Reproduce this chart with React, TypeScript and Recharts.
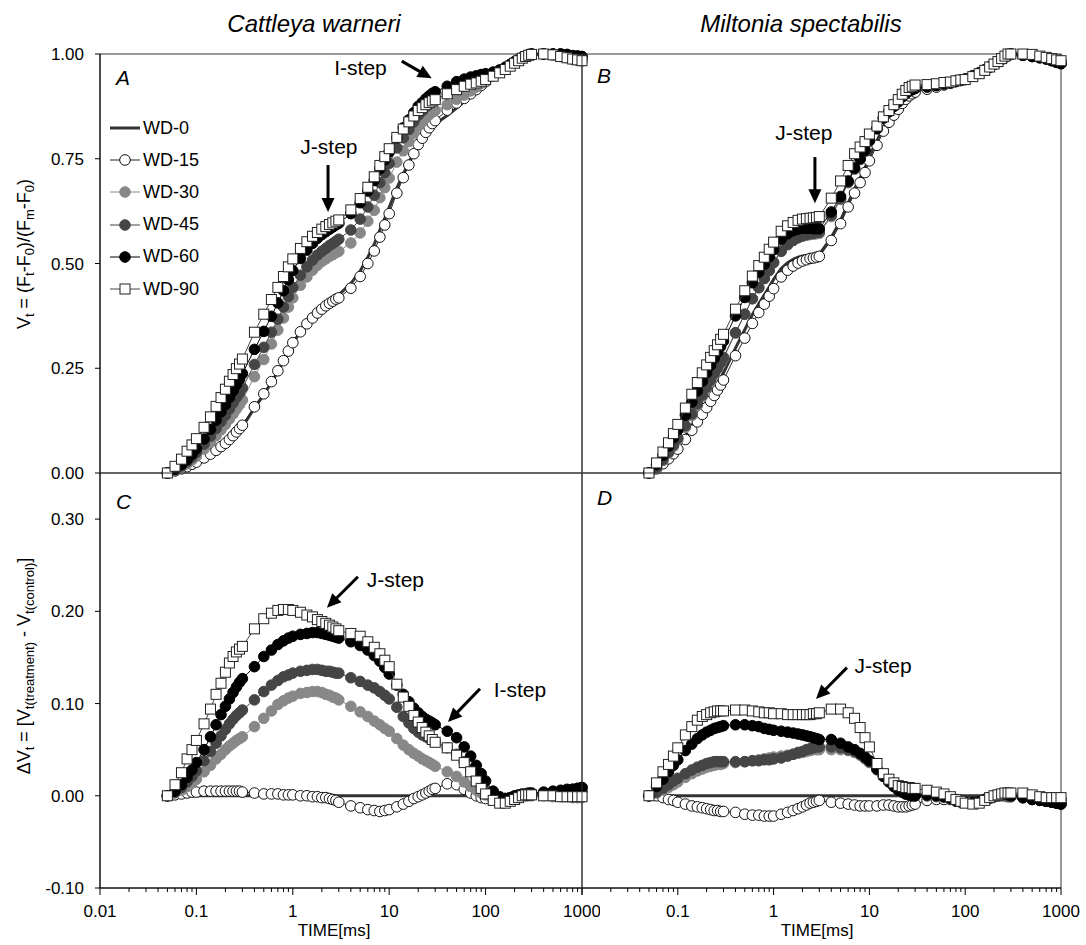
import React from "react";
import {
  ScatterChart,
  Scatter,
  XAxis,
  YAxis,
  ReferenceArea,
  ReferenceLine,
  ReferenceDot,
  Legend,
} from "recharts";

const FONT = '"Liberation Sans", Arial, Helvetica, sans-serif';

// sampling times of the OJIP transient (ms)
const timeMs = [
  0.05, 0.06, 0.07, 0.08, 0.09, 0.1, 0.12, 0.14, 0.16, 0.18, 0.2, 0.22, 0.24, 0.26, 0.28, 0.3,
  0.4, 0.5, 0.6, 0.7, 0.8, 0.9, 1, 1.2, 1.4, 1.6, 1.8, 2, 2.2, 2.4, 2.6, 2.8, 3,
  4, 5, 6, 7, 8, 9, 10, 12, 14, 16, 18, 20, 22, 24, 26, 28, 30,
  40, 50, 60, 70, 80, 90, 100, 120, 140, 160, 180, 200, 220, 240, 260, 280, 300,
  400, 500, 600, 700, 800, 900, 1000,
];

// Cattleya warneri: V_t per water-deficit treatment
const catV0 = [
  0, 0.004, 0.008, 0.012, 0.017, 0.022, 0.031, 0.04, 0.049, 0.058, 0.066, 0.075, 0.084, 0.093, 0.101, 0.11,
  0.155, 0.187, 0.216, 0.242, 0.267, 0.29, 0.31, 0.337, 0.356, 0.371, 0.383, 0.393, 0.401, 0.408, 0.414, 0.42, 0.425,
  0.452, 0.482, 0.515, 0.546, 0.58, 0.608, 0.634, 0.68, 0.714, 0.741, 0.765, 0.785, 0.798, 0.81, 0.819, 0.827, 0.833,
  0.853, 0.871, 0.887, 0.902, 0.915, 0.927, 0.937, 0.952, 0.963, 0.971, 0.977, 0.982, 0.986, 0.99, 0.993, 0.996, 0.998,
  1, 0.998, 0.995, 0.992, 0.989, 0.987, 0.985,
];
const catV15 = [
  0, 0.005, 0.01, 0.015, 0.021, 0.026, 0.036, 0.045, 0.054, 0.063, 0.071, 0.08, 0.089, 0.098, 0.106, 0.114,
  0.158, 0.189, 0.218, 0.244, 0.268, 0.291, 0.311, 0.337, 0.356, 0.37, 0.382, 0.391, 0.399, 0.405, 0.41, 0.415, 0.418,
  0.441, 0.469, 0.5, 0.53, 0.563, 0.592, 0.619, 0.668, 0.705, 0.735, 0.762, 0.784, 0.799, 0.813, 0.824, 0.834, 0.841,
  0.866, 0.883, 0.894, 0.905, 0.915, 0.925, 0.934, 0.948, 0.959, 0.968, 0.975, 0.981, 0.986, 0.991, 0.994, 0.998, 1,
  1, 1, 1, 0.998, 0.996, 0.995, 0.994,
];
const catV30 = [
  0, 0.007, 0.014, 0.022, 0.031, 0.04, 0.057, 0.073, 0.089, 0.103, 0.116, 0.129, 0.141, 0.153, 0.163, 0.174,
  0.23, 0.271, 0.308, 0.341, 0.37, 0.396, 0.418, 0.448, 0.468, 0.484, 0.496, 0.505, 0.511, 0.517, 0.521, 0.526, 0.529,
  0.549, 0.573, 0.601, 0.627, 0.657, 0.681, 0.704, 0.742, 0.769, 0.791, 0.811, 0.828, 0.838, 0.848, 0.855, 0.861, 0.865,
  0.879, 0.892, 0.902, 0.912, 0.921, 0.93, 0.938, 0.95, 0.96, 0.968, 0.975, 0.981, 0.986, 0.99, 0.993, 0.996, 0.998,
  1, 0.997, 0.994, 0.991, 0.987, 0.985, 0.983,
];
const catV45 = [
  0, 0.008, 0.017, 0.027, 0.038, 0.049, 0.069, 0.088, 0.106, 0.123, 0.138, 0.153, 0.167, 0.18, 0.191, 0.203,
  0.259, 0.3, 0.336, 0.367, 0.396, 0.421, 0.443, 0.472, 0.492, 0.508, 0.52, 0.529, 0.536, 0.543, 0.548, 0.553, 0.558,
  0.58, 0.606, 0.635, 0.663, 0.693, 0.717, 0.739, 0.776, 0.8, 0.82, 0.838, 0.854, 0.864, 0.874, 0.881, 0.887, 0.892,
  0.905, 0.916, 0.924, 0.93, 0.934, 0.938, 0.942, 0.949, 0.957, 0.965, 0.973, 0.98, 0.985, 0.99, 0.994, 0.997, 0.999,
  1, 1, 0.998, 0.996, 0.993, 0.992, 0.99,
];
const catV60 = [
  0, 0.009, 0.02, 0.032, 0.045, 0.058, 0.081, 0.104, 0.126, 0.146, 0.163, 0.18, 0.196, 0.211, 0.224, 0.237,
  0.295, 0.338, 0.374, 0.406, 0.435, 0.461, 0.483, 0.512, 0.532, 0.548, 0.56, 0.569, 0.576, 0.582, 0.587, 0.592, 0.596,
  0.619, 0.645, 0.673, 0.698, 0.726, 0.747, 0.766, 0.8, 0.824, 0.843, 0.86, 0.875, 0.884, 0.893, 0.9, 0.906, 0.91,
  0.923, 0.934, 0.94, 0.945, 0.948, 0.951, 0.953, 0.957, 0.962, 0.968, 0.975, 0.982, 0.987, 0.992, 0.995, 0.999, 1,
  1, 1, 1, 0.999, 0.996, 0.995, 0.994,
];
const catV90 = [
  0, 0.016, 0.033, 0.052, 0.067, 0.082, 0.109, 0.134, 0.159, 0.18, 0.2, 0.219, 0.235, 0.249, 0.26, 0.272,
  0.336, 0.379, 0.414, 0.443, 0.469, 0.492, 0.511, 0.536, 0.552, 0.565, 0.574, 0.582, 0.588, 0.593, 0.597, 0.601, 0.604,
  0.628, 0.655, 0.682, 0.707, 0.734, 0.755, 0.774, 0.801, 0.821, 0.838, 0.852, 0.865, 0.872, 0.879, 0.884, 0.888, 0.891,
  0.905, 0.915, 0.923, 0.928, 0.931, 0.935, 0.939, 0.947, 0.955, 0.963, 0.971, 0.978, 0.984, 0.99, 0.994, 0.997, 0.999,
  1, 0.998, 0.994, 0.991, 0.988, 0.986, 0.984,
];

// Miltonia spectabilis: V_t per water-deficit treatment
const milV0 = [
  0, 0.01, 0.024, 0.038, 0.051, 0.064, 0.089, 0.113, 0.134, 0.153, 0.17, 0.186, 0.201, 0.214, 0.227, 0.239,
  0.298, 0.342, 0.378, 0.404, 0.425, 0.444, 0.462, 0.488, 0.502, 0.51, 0.515, 0.518, 0.519, 0.52, 0.52, 0.521, 0.522,
  0.562, 0.603, 0.644, 0.678, 0.704, 0.728, 0.756, 0.793, 0.826, 0.847, 0.865, 0.88, 0.894, 0.904, 0.911, 0.915, 0.918,
  0.921, 0.925, 0.93, 0.934, 0.94, 0.944, 0.947, 0.955, 0.961, 0.966, 0.971, 0.976, 0.981, 0.987, 0.992, 0.997, 1,
  0.999, 0.998, 0.996, 0.994, 0.991, 0.988, 0.986,
];
const milV15 = [
  0, 0.01, 0.022, 0.034, 0.046, 0.057, 0.08, 0.102, 0.122, 0.14, 0.156, 0.171, 0.185, 0.198, 0.21, 0.222,
  0.28, 0.322, 0.357, 0.383, 0.403, 0.422, 0.44, 0.468, 0.484, 0.494, 0.501, 0.506, 0.509, 0.512, 0.513, 0.515, 0.517,
  0.555, 0.595, 0.635, 0.668, 0.693, 0.717, 0.745, 0.782, 0.816, 0.837, 0.854, 0.868, 0.882, 0.892, 0.9, 0.905, 0.909,
  0.916, 0.921, 0.926, 0.93, 0.934, 0.937, 0.94, 0.948, 0.955, 0.962, 0.969, 0.975, 0.981, 0.987, 0.992, 0.996, 0.999,
  0.997, 0.995, 0.993, 0.99, 0.987, 0.984, 0.982,
];
const milV30 = [
  0, 0.013, 0.03, 0.047, 0.063, 0.079, 0.109, 0.137, 0.161, 0.182, 0.201, 0.218, 0.234, 0.248, 0.261, 0.274,
  0.334, 0.379, 0.416, 0.443, 0.465, 0.485, 0.504, 0.531, 0.546, 0.555, 0.561, 0.565, 0.567, 0.569, 0.57, 0.571, 0.572,
  0.612, 0.653, 0.693, 0.725, 0.748, 0.768, 0.792, 0.821, 0.847, 0.862, 0.875, 0.886, 0.898, 0.906, 0.912, 0.915, 0.918,
  0.921, 0.924, 0.928, 0.931, 0.935, 0.938, 0.94, 0.948, 0.955, 0.962, 0.969, 0.976, 0.982, 0.988, 0.993, 0.997, 1,
  0.997, 0.995, 0.992, 0.989, 0.985, 0.981, 0.978,
];
const milV45 = [
  0, 0.014, 0.032, 0.05, 0.067, 0.083, 0.113, 0.141, 0.165, 0.186, 0.205, 0.222, 0.238, 0.251, 0.264, 0.276,
  0.335, 0.379, 0.416, 0.442, 0.464, 0.483, 0.502, 0.529, 0.545, 0.555, 0.562, 0.566, 0.569, 0.571, 0.572, 0.574, 0.575,
  0.615, 0.655, 0.694, 0.726, 0.749, 0.769, 0.793, 0.822, 0.848, 0.863, 0.876, 0.887, 0.898, 0.906, 0.912, 0.915, 0.918,
  0.921, 0.925, 0.929, 0.932, 0.936, 0.938, 0.94, 0.947, 0.954, 0.961, 0.968, 0.975, 0.981, 0.988, 0.993, 0.998, 1,
  0.997, 0.994, 0.991, 0.988, 0.984, 0.98, 0.977,
];
const milV60 = [
  0, 0.02, 0.042, 0.064, 0.084, 0.103, 0.138, 0.169, 0.196, 0.219, 0.239, 0.257, 0.274, 0.288, 0.302, 0.315,
  0.375, 0.419, 0.454, 0.479, 0.498, 0.516, 0.533, 0.558, 0.571, 0.578, 0.582, 0.584, 0.584, 0.584, 0.583, 0.583, 0.583,
  0.623, 0.66, 0.697, 0.728, 0.75, 0.77, 0.794, 0.822, 0.847, 0.862, 0.875, 0.886, 0.898, 0.906, 0.912, 0.915, 0.918,
  0.922, 0.925, 0.929, 0.931, 0.935, 0.938, 0.94, 0.948, 0.955, 0.962, 0.969, 0.976, 0.982, 0.989, 0.994, 0.998, 1,
  0.997, 0.994, 0.991, 0.988, 0.984, 0.98, 0.977,
];
const milV90 = [
  0, 0.024, 0.05, 0.072, 0.094, 0.116, 0.155, 0.188, 0.216, 0.239, 0.258, 0.276, 0.292, 0.306, 0.319, 0.331,
  0.391, 0.435, 0.47, 0.495, 0.515, 0.534, 0.551, 0.577, 0.59, 0.598, 0.603, 0.606, 0.607, 0.608, 0.609, 0.61, 0.612,
  0.656, 0.697, 0.734, 0.762, 0.778, 0.791, 0.809, 0.828, 0.85, 0.865, 0.879, 0.891, 0.904, 0.913, 0.92, 0.923, 0.926,
  0.927, 0.929, 0.932, 0.933, 0.936, 0.938, 0.939, 0.946, 0.953, 0.961, 0.969, 0.976, 0.982, 0.989, 0.995, 1, 1,
  1, 0.999, 0.995, 0.992, 0.989, 0.986, 0.984,
];

// Cattleya warneri: ΔV_t = V_t(treatment) - V_t(control)
const catDV15 = [
  0, 0.001, 0.002, 0.003, 0.004, 0.004, 0.005, 0.005, 0.005, 0.005, 0.005, 0.005, 0.005, 0.005, 0.005, 0.004,
  0.003, 0.002, 0.002, 0.002, 0.001, 0.001, 0.001, 0, 0, -0.001, -0.001, -0.002, -0.002, -0.003, -0.004, -0.005, -0.007,
  -0.011, -0.013, -0.015, -0.016, -0.017, -0.016, -0.015, -0.012, -0.009, -0.006, -0.003, -0.001, 0.001, 0.003, 0.005, 0.007, 0.008,
  0.013, 0.012, 0.007, 0.003, 0, -0.002, -0.003, -0.004, -0.004, -0.003, -0.002, -0.001, 0, 0.001, 0.001, 0.002, 0.002,
  0.003, 0.004, 0.005, 0.006, 0.007, 0.008, 0.009,
];
const catDV30 = [
  0, 0.003, 0.006, 0.01, 0.014, 0.018, 0.026, 0.033, 0.04, 0.045, 0.05, 0.054, 0.057, 0.06, 0.062, 0.064,
  0.075, 0.084, 0.092, 0.099, 0.103, 0.106, 0.108, 0.111, 0.112, 0.113, 0.113, 0.112, 0.11, 0.109, 0.107, 0.106, 0.104,
  0.097, 0.091, 0.086, 0.081, 0.077, 0.073, 0.07, 0.062, 0.055, 0.05, 0.046, 0.043, 0.04, 0.038, 0.036, 0.034, 0.032,
  0.026, 0.021, 0.015, 0.01, 0.006, 0.003, 0.001, -0.002, -0.003, -0.003, -0.002, -0.001, 0, 0, 0, 0, 0,
  0, -0.001, -0.001, -0.001, -0.002, -0.002, -0.002,
];
const catDV45 = [
  0, 0.004, 0.009, 0.015, 0.021, 0.027, 0.038, 0.048, 0.057, 0.065, 0.072, 0.078, 0.083, 0.087, 0.09, 0.093,
  0.104, 0.113, 0.12, 0.125, 0.129, 0.131, 0.133, 0.135, 0.136, 0.137, 0.137, 0.136, 0.135, 0.135, 0.134, 0.133, 0.133,
  0.128, 0.124, 0.12, 0.117, 0.113, 0.109, 0.105, 0.096, 0.086, 0.079, 0.073, 0.069, 0.066, 0.064, 0.062, 0.06, 0.059,
  0.052, 0.045, 0.037, 0.028, 0.019, 0.011, 0.005, -0.003, -0.006, -0.006, -0.004, -0.002, -0.001, 0, 0.001, 0.001, 0.001,
  0.002, 0.003, 0.003, 0.004, 0.004, 0.005, 0.005,
];
const catDV60 = [
  0, 0.005, 0.012, 0.02, 0.028, 0.036, 0.05, 0.064, 0.077, 0.088, 0.097, 0.105, 0.112, 0.118, 0.123, 0.127,
  0.14, 0.151, 0.158, 0.164, 0.168, 0.171, 0.173, 0.175, 0.176, 0.177, 0.177, 0.176, 0.175, 0.174, 0.173, 0.172, 0.171,
  0.167, 0.163, 0.158, 0.152, 0.146, 0.139, 0.132, 0.12, 0.11, 0.102, 0.095, 0.09, 0.086, 0.083, 0.081, 0.079, 0.077,
  0.07, 0.063, 0.053, 0.043, 0.033, 0.024, 0.016, 0.005, -0.001, -0.003, -0.002, 0, 0.001, 0.002, 0.002, 0.003, 0.003,
  0.004, 0.005, 0.006, 0.007, 0.007, 0.008, 0.009,
];
const catDV90 = [
  0, 0.012, 0.025, 0.04, 0.05, 0.06, 0.078, 0.094, 0.11, 0.122, 0.134, 0.144, 0.151, 0.156, 0.159, 0.162,
  0.181, 0.192, 0.198, 0.201, 0.202, 0.202, 0.201, 0.199, 0.196, 0.194, 0.191, 0.189, 0.187, 0.185, 0.183, 0.181, 0.179,
  0.176, 0.173, 0.167, 0.161, 0.154, 0.147, 0.14, 0.121, 0.107, 0.097, 0.087, 0.08, 0.074, 0.069, 0.065, 0.061, 0.058,
  0.052, 0.044, 0.036, 0.026, 0.016, 0.008, 0.002, -0.005, -0.008, -0.008, -0.006, -0.004, -0.002, 0, 0.001, 0.001, 0.001,
  0, 0, -0.001, -0.001, -0.001, -0.001, -0.001,
];

// Miltonia spectabilis: ΔV_t = V_t(treatment) - V_t(control)
const milDV15 = [
  0, 0, -0.002, -0.004, -0.005, -0.007, -0.009, -0.011, -0.012, -0.013, -0.014, -0.015, -0.016, -0.016, -0.017, -0.017,
  -0.018, -0.02, -0.021, -0.021, -0.022, -0.022, -0.022, -0.02, -0.018, -0.016, -0.014, -0.012, -0.01, -0.008, -0.007, -0.006, -0.005,
  -0.007, -0.008, -0.009, -0.01, -0.011, -0.011, -0.011, -0.011, -0.01, -0.01, -0.011, -0.012, -0.012, -0.012, -0.011, -0.01, -0.009,
  -0.005, -0.004, -0.004, -0.004, -0.006, -0.007, -0.007, -0.007, -0.006, -0.004, -0.002, -0.001, 0, 0, 0, -0.001, -0.001,
  -0.002, -0.003, -0.003, -0.004, -0.004, -0.004, -0.004,
];
const milDV30 = [
  0, 0.003, 0.006, 0.009, 0.012, 0.015, 0.02, 0.024, 0.027, 0.029, 0.031, 0.032, 0.033, 0.034, 0.034, 0.035,
  0.036, 0.037, 0.038, 0.039, 0.04, 0.041, 0.042, 0.043, 0.044, 0.045, 0.046, 0.047, 0.048, 0.049, 0.05, 0.05, 0.05,
  0.05, 0.05, 0.049, 0.047, 0.044, 0.04, 0.036, 0.028, 0.021, 0.015, 0.01, 0.006, 0.004, 0.002, 0.001, 0, 0,
  0, -0.001, -0.002, -0.003, -0.005, -0.006, -0.007, -0.007, -0.006, -0.004, -0.002, 0, 0.001, 0.001, 0.001, 0, 0,
  -0.002, -0.003, -0.004, -0.005, -0.006, -0.007, -0.008,
];
const milDV45 = [
  0, 0.004, 0.008, 0.012, 0.016, 0.019, 0.024, 0.028, 0.031, 0.033, 0.035, 0.036, 0.037, 0.037, 0.037, 0.037,
  0.037, 0.037, 0.038, 0.038, 0.039, 0.039, 0.04, 0.041, 0.043, 0.045, 0.047, 0.048, 0.05, 0.051, 0.052, 0.053, 0.053,
  0.053, 0.052, 0.05, 0.048, 0.045, 0.041, 0.037, 0.029, 0.022, 0.016, 0.011, 0.007, 0.004, 0.002, 0.001, 0, 0,
  0, 0, -0.001, -0.002, -0.004, -0.006, -0.007, -0.008, -0.007, -0.005, -0.003, -0.001, 0, 0.001, 0.001, 0.001, 0,
  -0.002, -0.004, -0.005, -0.006, -0.007, -0.008, -0.009,
];
const milDV60 = [
  0, 0.01, 0.018, 0.026, 0.033, 0.039, 0.049, 0.056, 0.062, 0.066, 0.069, 0.071, 0.073, 0.074, 0.075, 0.076,
  0.077, 0.077, 0.076, 0.075, 0.073, 0.072, 0.071, 0.07, 0.069, 0.068, 0.067, 0.066, 0.065, 0.064, 0.063, 0.062, 0.061,
  0.061, 0.057, 0.053, 0.05, 0.046, 0.042, 0.038, 0.029, 0.021, 0.015, 0.01, 0.006, 0.004, 0.002, 0.001, 0, 0,
  0.001, 0, -0.001, -0.003, -0.005, -0.006, -0.007, -0.007, -0.006, -0.004, -0.002, 0, 0.001, 0.002, 0.002, 0.001, 0,
  -0.002, -0.004, -0.005, -0.006, -0.007, -0.008, -0.009,
];
const milDV90 = [
  0, 0.014, 0.026, 0.034, 0.043, 0.052, 0.066, 0.075, 0.082, 0.086, 0.088, 0.09, 0.091, 0.092, 0.092, 0.092,
  0.093, 0.093, 0.092, 0.091, 0.09, 0.09, 0.089, 0.089, 0.088, 0.088, 0.088, 0.088, 0.088, 0.088, 0.089, 0.089, 0.09,
  0.094, 0.094, 0.09, 0.084, 0.074, 0.063, 0.053, 0.035, 0.024, 0.018, 0.014, 0.011, 0.01, 0.009, 0.009, 0.008, 0.008,
  0.006, 0.004, 0.002, -0.001, -0.004, -0.006, -0.008, -0.009, -0.008, -0.005, -0.002, 0, 0.001, 0.002, 0.003, 0.003, 0.003,
  0.003, 0.001, -0.001, -0.002, -0.002, -0.002, -0.002,
];

// axis ticks
const majorTicks = [0.01, 0.1, 1, 10, 100, 1000];
const minorTicks = majorTicks
  .slice(0, -1)
  .flatMap((d) => [2, 3, 4, 5, 6, 7, 8, 9].map((k) => Number((d * k).toPrecision(2))));
const timeTicks = [...majorTicks, ...minorTicks].sort((a, b) => a - b);
const vTicks = [0, 0.25, 0.5, 0.75, 1];
const dvTicks = [-0.1, 0, 0.1, 0.2, 0.3];

type SeriesStyle = {
  name: string;
  marker: "circle" | "square" | "none";
  fill: string;
  stroke: string;
  line: string;
  lineWidth: number;
};

const WD0: SeriesStyle = { name: "WD-0", marker: "none", fill: "none", stroke: "#333", line: "#333", lineWidth: 3 };
const WD15: SeriesStyle = { name: "WD-15", marker: "circle", fill: "#fff", stroke: "#111", line: "#222", lineWidth: 1 };
const WD30: SeriesStyle = { name: "WD-30", marker: "circle", fill: "#888", stroke: "#888", line: "#888", lineWidth: 1 };
const WD45: SeriesStyle = { name: "WD-45", marker: "circle", fill: "#454545", stroke: "#454545", line: "#454545", lineWidth: 1 };
const WD60: SeriesStyle = { name: "WD-60", marker: "circle", fill: "#000", stroke: "#000", line: "#000", lineWidth: 1 };
const WD90: SeriesStyle = { name: "WD-90", marker: "square", fill: "#fff", stroke: "#222", line: "#444", lineWidth: 1 };
const legendOrder = [WD0, WD15, WD30, WD45, WD60, WD90];

const drawMarker = (s: SeriesStyle, cx: number, cy: number) => {
  if (s.marker === "circle")
    return <circle cx={cx} cy={cy} r={5.3} fill={s.fill} stroke={s.stroke} strokeWidth={1} />;
  if (s.marker === "square")
    return <rect x={cx - 5} y={cy - 5} width={10} height={10} fill={s.fill} stroke={s.stroke} strokeWidth={1} />;
  return <g />;
};

const toRows = (vals: number[]) => timeMs.map((t, i) => ({ t, v: vals[i] }));

const renderSeries = (list: [SeriesStyle, number[]][]) =>
  list.map(([s, vals]) => (
    <Scatter
      key={s.name}
      name={s.name}
      data={toRows(vals)}
      isAnimationActive={false}
      line={{ stroke: s.line, strokeWidth: s.lineWidth }}
      lineType="joint"
      shape={(p: any) => drawMarker(s, p.cx, p.cy)}
    />
  ));

// arrow with a filled head, drawn between the two segment ends
const drawArrow = (p: any) => {
  const { x1, y1, x2, y2 } = p;
  const len = Math.hypot(x2 - x1, y2 - y1) || 1;
  const ux = (x2 - x1) / len;
  const uy = (y2 - y1) / len;
  const head = 14;
  const half = 6.5;
  const bx = x2 - ux * head;
  const by = y2 - uy * head;
  return (
    <g>
      <line x1={x1} y1={y1} x2={bx + ux} y2={by + uy} stroke="#000" strokeWidth={3} />
      <polygon
        points={`${x2},${y2} ${bx - uy * half},${by + ux * half} ${bx + uy * half},${by - ux * half}`}
        fill="#000"
      />
    </g>
  );
};

const callout = (
  key: string,
  text: string,
  at: [number, number],
  from: [number, number],
  to: [number, number]
) => [
  <ReferenceLine
    key={`${key}-arrow`}
    segment={[
      { x: from[0], y: from[1] },
      { x: to[0], y: to[1] },
    ]}
    shape={drawArrow}
  />,
  <ReferenceDot
    key={`${key}-text`}
    x={at[0]}
    y={at[1]}
    r={0}
    fill="none"
    stroke="none"
    label={{ value: text, position: "center", fontSize: 21, fill: "#000" }}
  />,
];

function TimeTick(props: any) {
  const { x, y, payload, hideFirst } = props;
  const v = payload.value as number;
  const major = majorTicks.includes(v);
  const showText = major && !(hideFirst && v === majorTicks[0]);
  return (
    <g>
      <line x1={x} x2={x} y1={y} y2={y + (major ? 7 : 4)} stroke="#000" strokeWidth={1} />
      {showText && (
        <text x={x} y={y + 29} textAnchor="middle" fontSize={17} fill="#000">
          {String(v)}
        </text>
      )}
    </g>
  );
}

function TimeTitle({ cx }: { cx: number }) {
  return (
    <text x={cx} y={496} textAnchor="middle" fontSize={17} fill="#000">
      TIME[ms]
    </text>
  );
}

const SUB = 13;

function VtTitle() {
  return (
    <text transform="translate(29.5 254) rotate(-90)" textAnchor="middle" fontSize={18} fill="#000">
      <tspan>V</tspan>
      <tspan dy={4} fontSize={SUB}>t</tspan>
      <tspan dy={-4}> = (F</tspan>
      <tspan dy={4} fontSize={SUB}>t</tspan>
      <tspan dy={-4}>-F</tspan>
      <tspan dy={4} fontSize={SUB}>0</tspan>
      <tspan dy={-4}>)/(F</tspan>
      <tspan dy={4} fontSize={SUB}>m</tspan>
      <tspan dy={-4}>-F</tspan>
      <tspan dy={4} fontSize={SUB}>0</tspan>
      <tspan dy={-4}>)</tspan>
    </text>
  );
}

function DeltaVtTitle() {
  return (
    <text transform="translate(29.5 226) rotate(-90)" textAnchor="middle" fontSize={18} fill="#000">
      <tspan>ΔV</tspan>
      <tspan dy={4} fontSize={SUB}>t</tspan>
      <tspan dy={-4}> = [V</tspan>
      <tspan dy={4} fontSize={SUB}>t(treatment)</tspan>
      <tspan dy={-4}> - V</tspan>
      <tspan dy={4} fontSize={SUB}>t(control)</tspan>
      <tspan dy={-4}>]</tspan>
    </text>
  );
}

function LegendBox() {
  return (
    <div style={{ fontSize: 18, color: "#000" }}>
      {legendOrder.map((s) => (
        <div key={s.name} style={{ display: "flex", alignItems: "center", height: 32.2 }}>
          <svg width={35} height={16} style={{ display: "block" }}>
            <line x1={2} x2={32} y1={8} y2={8} stroke={s.line} strokeWidth={s.lineWidth} />
            {drawMarker(s, 17, 8)}
          </svg>
          <span>{s.name}</span>
        </div>
      ))}
    </div>
  );
}

type PanelProps = {
  left: number;
  top: number;
  width: number;
  height: number;
  margin: { top: number; right: number; bottom: number; left: number };
  yDomain: [number, number];
  yTicks: number[];
  leftAxis: boolean;
  bottomAxis: boolean;
  yTitle?: React.ReactElement;
  xTitleX?: number;
  hideFirstX?: boolean;
  children: React.ReactNode;
};

function Panel(p: PanelProps) {
  return (
    <div style={{ position: "absolute", left: p.left, top: p.top }}>
      <ScatterChart width={p.width} height={p.height} margin={p.margin}>
        {p.bottomAxis ? (
          <XAxis
            type="number"
            dataKey="t"
            scale="log"
            domain={[0.01, 1000]}
            ticks={timeTicks}
            interval={0}
            tickLine={false}
            tickSize={0}
            tickMargin={0}
            axisLine={{ stroke: "#000" }}
            height={57}
            tick={<TimeTick hideFirst={p.hideFirstX} />}
            label={<TimeTitle cx={p.xTitleX ?? 0} />}
          />
        ) : (
          <XAxis type="number" dataKey="t" scale="log" domain={[0.01, 1000]} hide />
        )}
        {p.leftAxis ? (
          <YAxis
            type="number"
            dataKey="v"
            domain={p.yDomain}
            ticks={p.yTicks}
            interval={0}
            width={100}
            tickSize={5}
            tickMargin={11}
            tickLine={{ stroke: "#000" }}
            axisLine={{ stroke: "#000" }}
            tick={{ fill: "#000", fontSize: 17 }}
            tickFormatter={(v: number) => v.toFixed(2)}
            label={p.yTitle}
          />
        ) : (
          <YAxis type="number" dataKey="v" domain={p.yDomain} hide />
        )}
        <ReferenceArea
          x1={0.01}
          x2={1000}
          y1={p.yDomain[0]}
          y2={p.yDomain[1]}
          fill="none"
          stroke="#333"
          strokeWidth={1}
        />
        {p.children}
      </ScatterChart>
    </div>
  );
}

const controlLine = (
  <ReferenceLine
    key="control"
    segment={[
      { x: timeMs[0], y: 0 },
      { x: timeMs[timeMs.length - 1], y: 0 },
    ]}
    stroke="#333"
    strokeWidth={3}
  />
);

export default function App() {
  return (
    <div
      style={{
        position: "absolute",
        left: 0,
        top: 0,
        width: 1086,
        height: 945,
        background: "#fff",
        fontFamily: FONT,
        overflow: "hidden",
      }}
    >
      <svg width={1086} height={945} style={{ position: "absolute", left: 0, top: 0 }}>
        <g fontStyle="italic" fill="#000">
          <text x={314} y={32} textAnchor="middle" fontSize={24}>
            Cattleya warneri
          </text>
          <text x={801} y={32} textAnchor="middle" fontSize={24}>
            Miltonia spectabilis
          </text>
          <text x={116} y={85} fontSize={21}>A</text>
          <text x={597} y={83} fontSize={21}>B</text>
          <text x={116} y={509} fontSize={21}>C</text>
          <text x={597} y={505} fontSize={21}>D</text>
        </g>
      </svg>

      {/* A: Cattleya warneri, V_t */}
      <Panel
        left={0}
        top={0}
        width={600}
        height={500}
        margin={{ top: 54, right: 18, bottom: 27, left: 0 }}
        yDomain={[0, 1]}
        yTicks={vTicks}
        leftAxis
        bottomAxis={false}
        yTitle={<VtTitle />}
      >
        {renderSeries([
          [WD0, catV0],
          [WD15, catV15],
          [WD30, catV30],
          [WD45, catV45],
          [WD60, catV60],
          [WD90, catV90],
        ])}
        {callout("a-i", "I-step", [5.04, 0.967], [13.5, 0.983], [27.6, 0.942])}
        {callout("a-j", "J-step", [2.37, 0.778], [2.32, 0.735], [2.32, 0.623])}
        <Legend
          layout="vertical"
          align="center"
          verticalAlign="middle"
          content={() => <LegendBox />}
          wrapperStyle={{ left: 108, top: 112, width: 130 }}
        />
      </Panel>

      {/* B: Miltonia spectabilis, V_t */}
      <Panel
        left={560}
        top={0}
        width={526}
        height={500}
        margin={{ top: 54, right: 25, bottom: 27, left: 22 }}
        yDomain={[0, 1]}
        yTicks={vTicks}
        leftAxis={false}
        bottomAxis={false}
      >
        {renderSeries([
          [WD0, milV0],
          [WD15, milV15],
          [WD30, milV30],
          [WD45, milV45],
          [WD60, milV60],
          [WD90, milV90],
        ])}
        {callout("b-j", "J-step", [2.07, 0.813], [2.7, 0.754], [2.7, 0.644])}
      </Panel>

      {/* C: Cattleya warneri, ΔV_t */}
      <Panel
        left={0}
        top={440}
        width={600}
        height={505}
        margin={{ top: 33, right: 18, bottom: 0, left: 0 }}
        yDomain={[-0.1, 0.35]}
        yTicks={dvTicks}
        leftAxis
        bottomAxis
        yTitle={<DeltaVtTitle />}
        xTitleX={334}
      >
        {controlLine}
        {renderSeries([
          [WD15, catDV15],
          [WD30, catDV30],
          [WD45, catDV45],
          [WD60, catDV60],
          [WD90, catDV90],
        ])}
        {callout("c-j", "J-step", [11.6, 0.235], [4.74, 0.2375], [2.26, 0.204])}
        {callout("c-i", "I-step", [227, 0.115], [87.5, 0.116], [40.7, 0.08])}
      </Panel>

      {/* D: Miltonia spectabilis, ΔV_t */}
      <Panel
        left={560}
        top={440}
        width={526}
        height={505}
        margin={{ top: 33, right: 25, bottom: 0, left: 22 }}
        yDomain={[-0.1, 0.35]}
        yTicks={dvTicks}
        leftAxis={false}
        bottomAxis
        hideFirstX
        xTitleX={257}
      >
        {controlLine}
        {renderSeries([
          [WD15, milDV15],
          [WD30, milDV30],
          [WD45, milDV45],
          [WD60, milDV60],
          [WD90, milDV90],
        ])}
        {callout("d-j", "J-step", [13.9, 0.1415], [5.83, 0.139], [2.77, 0.105])}
      </Panel>
    </div>
  );
}
